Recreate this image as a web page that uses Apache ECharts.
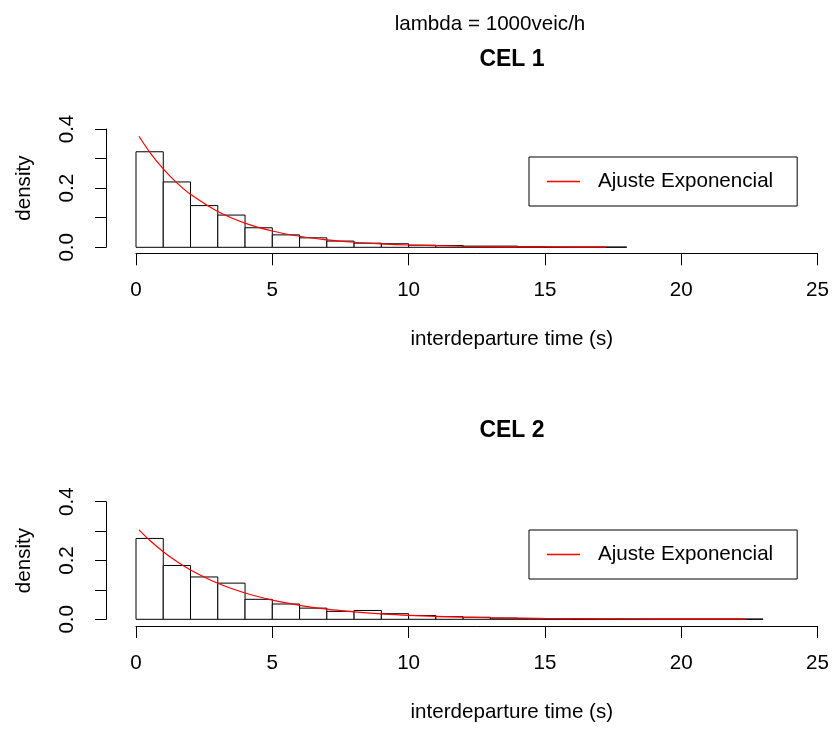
<!DOCTYPE html>
<html>
<head>
<meta charset="utf-8">
<script src="https://cdn.jsdelivr.net/npm/echarts@6/dist/echarts.min.js"></script>
<style>html,body{margin:0;padding:0;background:#fff}#c{width:832px;height:729px}</style>
</head>
<body>
<div id="c"></div>
<script>
// Histogram densities, bins of width 1 s starting at 0
var cel1Density = [0.323, 0.221, 0.141, 0.109, 0.066, 0.042, 0.032, 0.021, 0.014, 0.012, 0.007, 0.006, 0.004, 0.004, 0.002, 0.001, 0.001, 0.001];
var cel2Density = [0.275, 0.183, 0.144, 0.123, 0.068, 0.052, 0.038, 0.027, 0.030, 0.019, 0.013, 0.009, 0.007, 0.004, 0.003, 0.002, 0.001, 0.001, 0.001, 0.001, 0.001, 0.001, 0.001];
// Fitted exponential curve
var fit1T = [0.11, 0.5, 1, 1.5, 2, 3, 4, 5, 6, 7, 8, 9, 10, 12, 14, 16, 17.24];
var fit1D = [0.3755, 0.322, 0.265, 0.2177, 0.179, 0.121, 0.0817, 0.0552, 0.0373, 0.0252, 0.017, 0.0115, 0.0078, 0.00355, 0.00162, 0.00074, 0.00045];
var fit2T = [0.11, 0.5, 1, 1.5, 2, 3, 4, 5, 6, 7, 8, 9, 10, 12, 14, 16, 18, 20, 22.37];
var fit2D = [0.3043, 0.269, 0.230, 0.1964, 0.1678, 0.1224, 0.0894, 0.0652, 0.0476, 0.0347, 0.0254, 0.0185, 0.0135, 0.0072, 0.00383, 0.00204, 0.00109, 0.00058, 0.00027];
var xTicks = [0, 5, 10, 15, 20, 25];
var yTicks = [0.0, 0.2, 0.4];
var mainTitle = 'lambda = 1000veic/h';
var panelTitles = ['CEL 1', 'CEL 2'];
var xLabel = 'interdeparture time (s)';
var yLabel = 'density';
var legendLabel = 'Ajuste Exponencial';

var FONT = "'Liberation Sans', Arial, Helvetica, sans-serif";
var FS = 20.6;
var chart = echarts.init(document.getElementById('c'), null, {renderer: 'canvas'});

function histData(arr) { return arr.map(function (v, i) { return [i, i + 1, v]; }); }
function lineData(t, d) { return t.map(function (v, i) { return [v, d[i]]; }); }

function renderBar(params, api) {
  var p0 = api.coord([api.value(0), api.value(2)]);
  var p1 = api.coord([api.value(1), 0]);
  return {
    type: 'rect',
    shape: {x: p0[0], y: p0[1], width: p1[0] - p0[0], height: p1[1] - p0[1]},
    style: {fill: '#ffffff', stroke: '#000000', lineWidth: 1}
  };
}

function xAxisCfg(gi, off) {
  return {
    type: 'value', gridIndex: gi, min: xTicks[0], max: xTicks[xTicks.length - 1], interval: 5,
    position: 'bottom', offset: off,
    axisLine: {show: true, onZero: false, lineStyle: {color: '#000', width: 1}},
    axisTick: {show: true, length: 12, lineStyle: {color: '#000', width: 1}},
    axisLabel: {color: '#000', fontSize: FS, fontFamily: FONT, margin: 26.5},
    splitLine: {show: false},
    name: xLabel, nameLocation: 'middle', nameGap: 76,
    nameTextStyle: {color: '#000', fontSize: FS, fontFamily: FONT, padding: [0, 0, 0, 70]}
  };
}
function yAxisCfg(gi) {
  return {
    type: 'value', gridIndex: gi, min: 0, max: yTicks[yTicks.length - 1], interval: 0.1,
    position: 'left', offset: 30,
    axisLine: {show: true, onZero: false, lineStyle: {color: '#000', width: 1}},
    axisTick: {show: true, length: 11, lineStyle: {color: '#000', width: 1}},
    axisLabel: {color: '#000', fontSize: FS, fontFamily: FONT, margin: 28, rotate: 90,
      formatter: function (v) {
        for (var i = 0; i < yTicks.length; i++) if (Math.abs(v - yTicks[i]) < 1e-9) return v.toFixed(1);
        return '';
      }},
    splitLine: {show: false},
    name: yLabel, nameLocation: 'middle', nameGap: 71, nameRotate: 90,
    nameTextStyle: {color: '#000', fontSize: FS, fontFamily: FONT}
  };
}
function legendCfg(top) {
  return {
    show: true, left: 529, top: top, orient: 'horizontal',
    data: [{name: legendLabel, icon: 'rect'}],
    itemWidth: 33, itemHeight: 1.3,
    borderColor: '#000', borderWidth: 1, borderRadius: 0,
    padding: [14, 24, 14, 18],
    textStyle: {color: '#000', fontSize: FS, fontFamily: FONT, padding: [0, 0, 0, 13]},
    selectedMode: false
  };
}

var option = {
  animation: false,
  backgroundColor: '#fff',
  grid: [
    {left: 136, top: 129, width: 682, height: 118.3},
    {left: 136, top: 501.7, width: 682, height: 117.6}
  ],
  xAxis: [xAxisCfg(0, 6), xAxisCfg(1, 6.7)],
  yAxis: [yAxisCfg(0), yAxisCfg(1)],
  legend: [legendCfg(157), legendCfg(530)],
  graphic: [
    {type: 'text', x: 490, y: 24, style: {text: mainTitle, fill: '#000', font: FS + 'px ' + FONT, align: 'center', verticalAlign: 'middle'}},
    {type: 'text', x: 512, y: 60, style: {text: panelTitles[0], fill: '#000', font: 'bold 23px ' + FONT, align: 'center', verticalAlign: 'middle'}},
    {type: 'text', x: 512, y: 431, style: {text: panelTitles[1], fill: '#000', font: 'bold 23px ' + FONT, align: 'center', verticalAlign: 'middle'}}
  ],
  series: [
    {type: 'custom', xAxisIndex: 0, yAxisIndex: 0, renderItem: renderBar, data: histData(cel1Density), encode: {x: [0, 1], y: 2}, silent: true},
    {type: 'custom', xAxisIndex: 1, yAxisIndex: 1, renderItem: renderBar, data: histData(cel2Density), encode: {x: [0, 1], y: 2}, silent: true},
    {type: 'line', name: legendLabel, xAxisIndex: 0, yAxisIndex: 0, data: lineData(fit1T, fit1D), smooth: 0.3, showSymbol: false, symbol: 'none',
      lineStyle: {color: '#ff0000', width: 1.2}, itemStyle: {color: '#ff0000'}, z: 5},
    {type: 'line', name: legendLabel, xAxisIndex: 1, yAxisIndex: 1, data: lineData(fit2T, fit2D), smooth: 0.3, showSymbol: false, symbol: 'none',
      lineStyle: {color: '#ff0000', width: 1.2}, itemStyle: {color: '#ff0000'}, z: 5}
  ]
};
chart.setOption(option);
</script>
</body>
</html>
